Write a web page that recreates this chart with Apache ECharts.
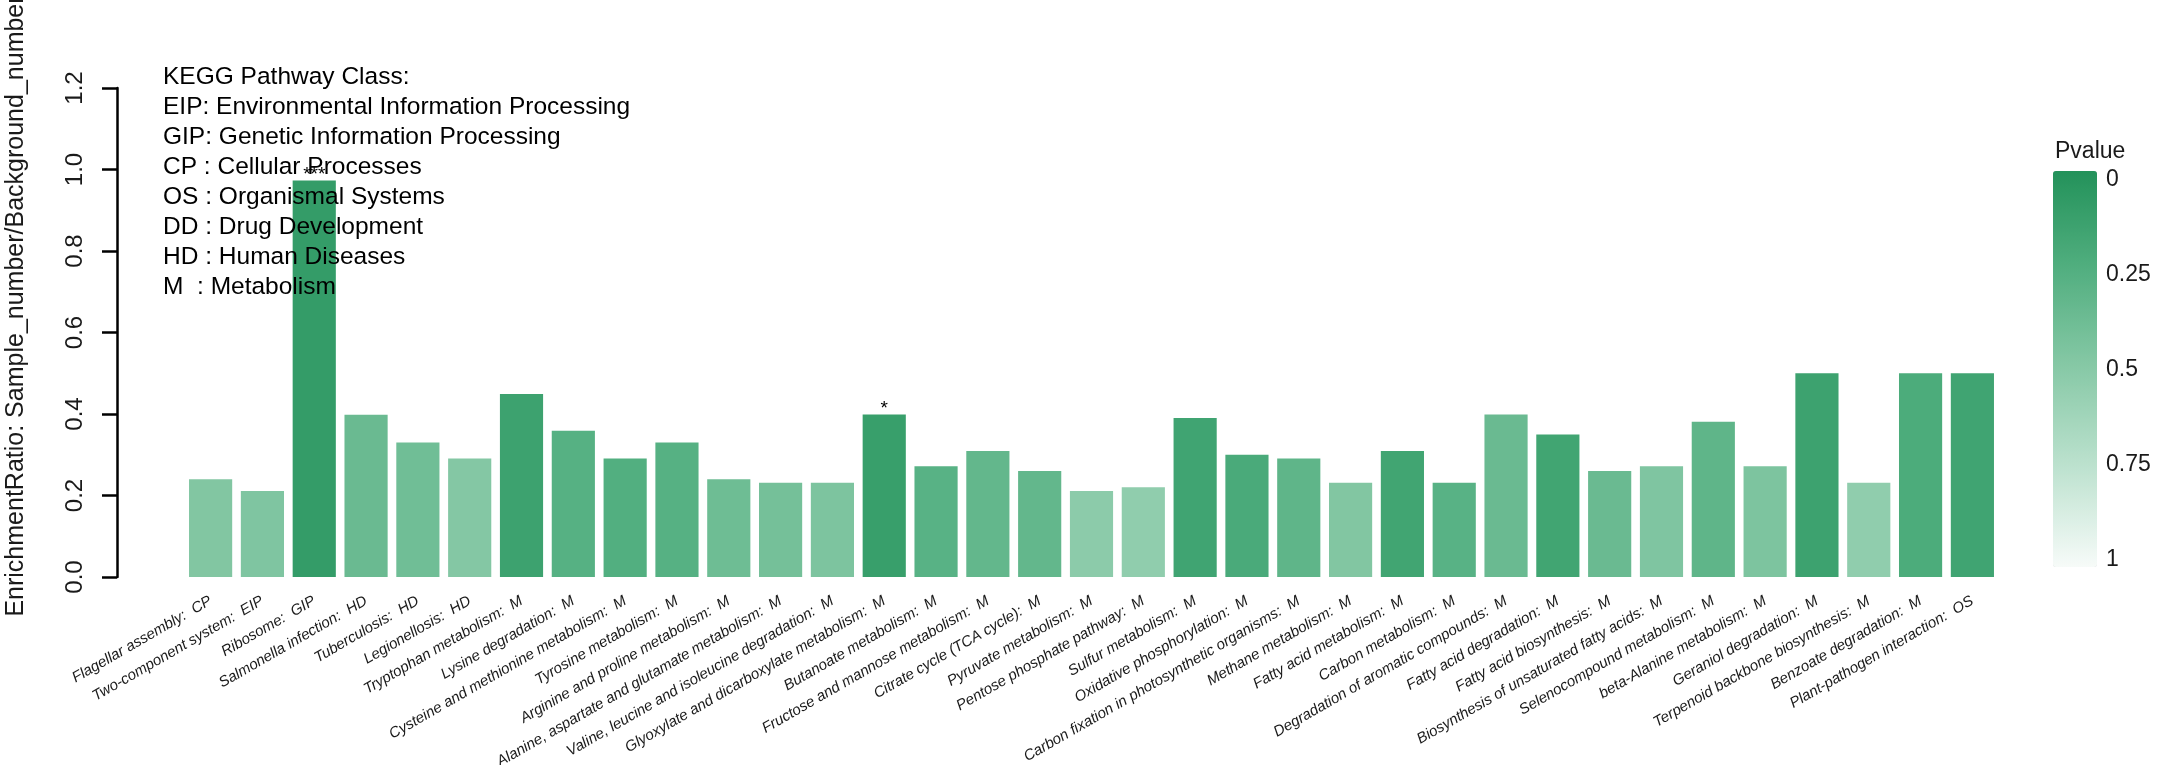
<!DOCTYPE html>
<html>
<head>
<meta charset="utf-8">
<script src="https://cdn.jsdelivr.net/npm/echarts@6/dist/echarts.min.js"></script>
<style>
html,body{margin:0;padding:0;background:#fff;}
#chart{width:2158px;height:765px;}
</style>
</head>
<body>
<div id="chart"></div>
<script>
const pathways = [
  'Flagellar assembly','Two-component system','Ribosome','Salmonella infection','Tuberculosis',
  'Legionellosis','Tryptophan metabolism','Lysine degradation','Cysteine and methionine metabolism',
  'Tyrosine metabolism','Arginine and proline metabolism','Alanine, aspartate and glutamate metabolism',
  'Valine, leucine and isoleucine degradation','Glyoxylate and dicarboxylate metabolism','Butanoate metabolism',
  'Fructose and mannose metabolism','Citrate cycle (TCA cycle)','Pyruvate metabolism','Pentose phosphate pathway',
  'Sulfur metabolism','Oxidative phosphorylation','Carbon fixation in photosynthetic organisms','Methane metabolism',
  'Fatty acid metabolism','Carbon metabolism','Degradation of aromatic compounds','Fatty acid degradation',
  'Fatty acid biosynthesis','Biosynthesis of unsaturated fatty acids','Selenocompound metabolism',
  'beta-Alanine metabolism','Geraniol degradation','Terpenoid backbone biosynthesis','Benzoate degradation',
  'Plant-pathogen interaction'
];
const classes = [
  'CP','EIP','GIP','HD','HD','HD','M','M','M','M','M','M','M','M','M','M','M','M','M',
  'M','M','M','M','M','M','M','M','M','M','M','M','M','M','M','OS'
];
const ratios = [
  0.240,0.211,0.973,0.398,0.330,0.291,0.449,0.359,0.291,0.330,0.240,0.231,0.231,0.399,0.272,
  0.309,0.260,0.211,0.220,0.390,0.300,0.291,0.231,0.309,0.231,0.399,0.350,0.260,0.272,0.381,
  0.272,0.500,0.231,0.500,0.500
];
const pvalues = [
  0.47,0.46,0.09,0.36,0.39,0.48,0.14,0.27,0.25,0.27,0.38,0.41,0.45,0.11,0.28,
  0.33,0.33,0.52,0.54,0.155,0.21,0.31,0.47,0.16,0.28,0.36,0.16,0.36,0.46,0.31,
  0.45,0.14,0.54,0.22,0.155
];
const significance = [
  '','','***','','','','','','','','','','','*','','','','','','','','','','','','','','','','','','','','',''
];
const legendLines = [
  'KEGG Pathway Class:',
  'EIP: Environmental Information Processing',
  'GIP: Genetic Information Processing',
  'CP : Cellular Processes',
  'OS : Organismal Systems',
  'DD : Drug Development',
  'HD : Human Diseases',
  'M  : Metabolism'
];
const yTitle = 'EnrichmentRatio: Sample_number/Background_number';
const colorTitle = 'Pvalue';
const colorStops = ['#23925A','#52AF80','#88C9A7','#BDE2CF','#F7FBF9'];

const categories = pathways.map((p,i)=>p + ':  ' + classes[i]);
const barData = categories.map((c,i)=>[c, ratios[i], pvalues[i]]);

const FONT = '"Liberation Sans", Arial, sans-serif';
const chart = echarts.init(document.getElementById('chart'), null, {renderer:'canvas'});

chart.setOption({
  animation:false,
  backgroundColor:'#ffffff',
  grid:[
    {left:184.7, right:159.7, top:88, bottom:188, containLabel:false, outerBoundsMode:'none'},
    {left:2053, width:44, top:180, height:380, containLabel:false, outerBoundsMode:'none'}
  ],
  xAxis:[
    {
      type:'category', gridIndex:0, data:categories,
      axisLine:{show:false}, axisTick:{show:false}, splitLine:{show:false},
      axisLabel:{
        interval:0, rotate:30, margin:23, hideOverlap:false,
        fontFamily:FONT, fontStyle:'italic', fontSize:15, color:'#1a1a1a'
      }
    },
    {type:'value', gridIndex:1, show:false, min:0, max:1}
  ],
  yAxis:[
    {
      type:'value', gridIndex:0, min:0, max:1.2, interval:0.2, offset:67.7,
      axisLine:{show:true, lineStyle:{color:'#000', width:2.5}},
      axisTick:{show:true, inside:false, length:15, lineStyle:{color:'#000', width:2.5}},
      splitLine:{show:false},
      axisLabel:{
        rotate:90, margin:30, fontFamily:FONT, fontSize:24, color:'#1a1a1a',
        formatter:v=>v.toFixed(1)
      }
    },
    {
      type:'value', gridIndex:1, position:'right', min:0, max:1, interval:0.25, inverse:true,
      axisLine:{show:false}, axisTick:{show:false}, splitLine:{show:false},
      axisLabel:{margin:9, fontFamily:FONT, fontSize:23, color:'#1a1a1a'}
    }
  ],
  visualMap:{
    type:'continuous', seriesIndex:0, dimension:2, min:0, max:1,
    inverse:true, orient:'vertical', calculable:false, realtime:false,
    left:2053, top:171, itemWidth:44, itemHeight:396, padding:0,
    text:null, showLabel:false,
    inRange:{color:colorStops}
  },
  series:[
    {
      type:'bar', xAxisIndex:0, yAxisIndex:0, data:barData,
      encode:{x:0, y:1},
      barCategoryGap:'16.7%',
      label:{
        show:true, position:'top', distance:-4,
        fontFamily:FONT, fontSize:19, color:'#000',
        formatter:p=>significance[p.dataIndex]
      }
    },
    {
      type:'scatter', xAxisIndex:1, yAxisIndex:1, data:[], silent:true
    }
  ],
  graphic:[
    {
      type:'text', left:163, top:62, z:100, silent:true,
      style:{
        text:legendLines.join('\n'), fontFamily:FONT, fontSize:24.5, lineHeight:30,
        fill:'#000', textAlign:'left', textVerticalAlign:'top'
      }
    },
    {
      type:'text', x:16, y:306, rotation:Math.PI/2, z:100, silent:true,
      style:{
        text:yTitle, fontFamily:FONT, fontSize:25, fill:'#1a1a1a',
        textAlign:'center', textVerticalAlign:'middle'
      }
    },
    {
      type:'text', x:2055, y:152, z:100, silent:true,
      style:{
        text:colorTitle, fontFamily:FONT, fontSize:23, fill:'#1a1a1a',
        textAlign:'left', textVerticalAlign:'middle'
      }
    }
  ]
});
</script>
</body>
</html>
